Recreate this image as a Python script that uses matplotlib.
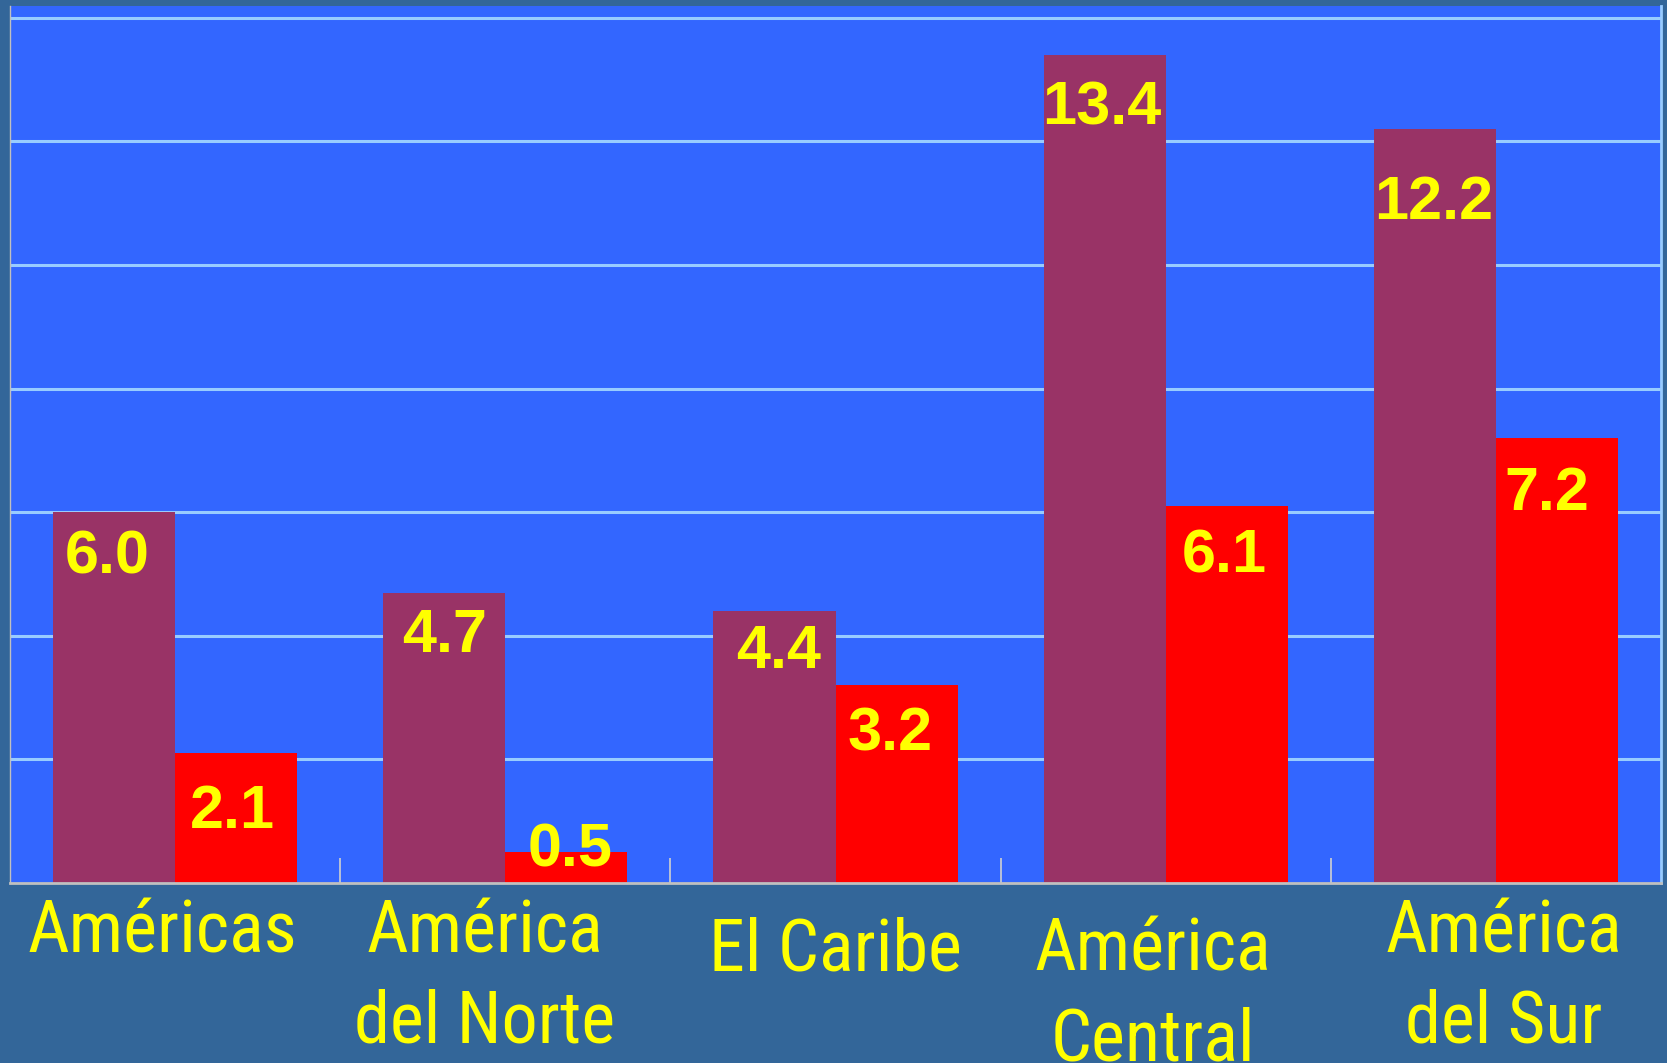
import matplotlib
matplotlib.use('Agg')
import matplotlib.pyplot as plt
import matplotlib.transforms as mtransforms
import numpy as np

categories = ['Américas', 'América\ndel Norte', 'El Caribe', 'América\nCentral', 'América\ndel Sur']
serie_1 = [6.0, 4.7, 4.4, 13.4, 12.2]
serie_2 = [2.1, 0.5, 3.2, 6.1, 7.2]

# label placement offsets (x, y) in points
dx_1 = [-5, 0, 3, -2, -1]
dy_1 = [33, 32, 30, 39, 54]
dx_2 = [-3, 3, -5, -2, -7]
dy_2 = [43, -1, 36, 37, 41]
cat_dx = [-9, -15, 0, -9, 6]
cat_dy = [11, 11, 24, 24, 11]

bg_out = '#336699'
bg_plot = '#3366FF'
c1 = '#993366'
c2 = '#FF0000'
yellow = '#FFFF00'
grid_c = '#99CCFF'

fig = plt.figure(figsize=(16.67, 10.63), dpi=100, facecolor=bg_out)
ax = fig.add_axes([10 / 1667, 180 / 1063, 1651 / 1667, 877 / 1063])
ax.set_facecolor(bg_plot)

x = np.arange(len(categories))
w = 0.37
ax.bar(x - w / 2, serie_1, width=w, color=c1, zorder=2)
ax.bar(x + w / 2, serie_2, width=w, color=c2, zorder=2)

ax.set_xlim(-0.5, len(categories) - 0.5)
ax.set_ylim(0, 14.19)

for yv in np.arange(2, 15, 2):
    ax.axhline(yv, color=grid_c, lw=2.2, zorder=1)

ax.set_yticks([])
ax.set_xticks(np.arange(0.5, len(categories) - 0.5, 1))
ax.set_xticks(x, minor=True)
ax.set_xticklabels([])
ax.tick_params(axis='x', which='major', direction='in', length=18, width=1.2, color='#D0D0D0')
ax.tick_params(axis='x', which='minor', direction='in', length=13, width=1.2, color='#D0D0D0')

ax.spines['top'].set_visible(False)
ax.spines['bottom'].set_color('#C0C0C0')
ax.spines['bottom'].set_linewidth(2)
ax.spines['left'].set_color('#C0C0C0')
ax.spines['left'].set_linewidth(1)
ax.spines['right'].set_color(grid_c)
ax.spines['right'].set_linewidth(2)

for xi, v, ox, oy in zip(x - w / 2, serie_1, dx_1, dy_1):
    ax.annotate(f'{v:.1f}', (xi, v), xytext=(ox, -oy), textcoords='offset points',
                ha='center', va='center', color=yellow, fontsize=44,
                fontweight='bold', family='Liberation Sans', zorder=3)
for xi, v, ox, oy in zip(x + w / 2, serie_2, dx_2, dy_2):
    ax.annotate(f'{v:.1f}', (xi, v), xytext=(ox, -oy), textcoords='offset points',
                ha='center', va='center', color=yellow, fontsize=44,
                fontweight='bold', family='Liberation Sans', zorder=3)

trans = mtransforms.blended_transform_factory(ax.transData, ax.transAxes)
for xi, lab, ox, oy in zip(x, categories, cat_dx, cat_dy):
    t = mtransforms.offset_copy(trans, fig=fig, x=ox, y=-oy, units='points')
    ax.text(xi, 0, lab, transform=t, ha='center', va='top', color=yellow,
            fontsize=52, family=['Roboto Condensed', 'DejaVu Sans'],
            linespacing=1.4, clip_on=False)

fig.savefig('out.png', dpi=100, facecolor=bg_out)
